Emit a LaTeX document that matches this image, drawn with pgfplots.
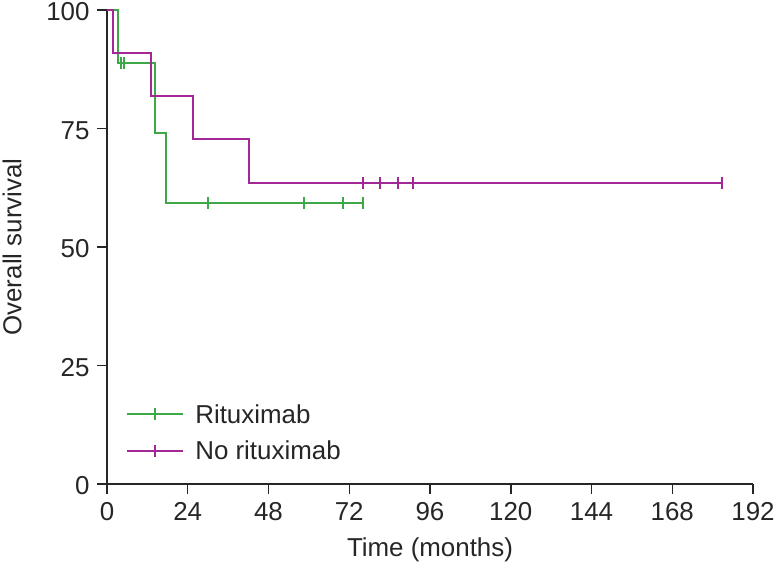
\documentclass[border=0pt]{standalone}
\usepackage{fontspec}
\setmainfont{Liberation Sans}
\usepackage{pgfplots}
\pgfplotsset{compat=1.18}
\definecolor{kmgreen}{RGB}{62,168,72}
\definecolor{kmmag}{RGB}{162,40,150}
\begin{document}
\begin{tikzpicture}
\begin{axis}[
  scale only axis,
  width=646bp, height=474bp,
  xmin=0, xmax=192, ymin=0, ymax=100,
  xtick={0,24,...,192}, ytick={0,25,50,75,100},
  axis x line=bottom, axis y line=left,
  axis line style={-, line width=1.5bp, black!85},
  tick style={line width=1.5bp, black!85},
  tick align=outside, major tick length=10bp,
  /pgf/number format/assume math mode=true,
  tick label style={font=\fontsize{26}{28}\selectfont, text=black!85},
  xticklabel style={yshift=-5bp},
  yticklabel style={xshift=-4bp, yshift=-2bp},
  xlabel={Time (months)}, ylabel={Overall survival},
  xlabel style={at={(axis description cs:0.5,-0.139)}, anchor=center, font=\fontsize{26}{28}\selectfont, text=black!85},
  ylabel style={at={(axis description cs:-0.147,0.5)}, anchor=center, rotate=0, font=\fontsize{26}{28}\selectfont, text=black!85},
  legend style={draw=none, fill=none, at={(axis description cs:0.025,0.04)}, anchor=south west,
    font=\fontsize{26}{28}\selectfont, row sep=12bp, text=black!85,
    nodes={inner xsep=11bp}},
  legend cell align=left,
  legend image code/.code={\draw[#1] (0bp,0bp) -- (56bp,0bp); \draw[#1] (28bp,-6bp) -- (28bp,6bp);},
]
\addplot[const plot, kmgreen, line width=2bp] coordinates {(0,100) (3.3,88.9) (14.3,74.1) (17.6,59.3) (76.1,59.3)};
\addlegendentry{Rituximab}
\addplot[const plot, kmmag, line width=2bp] coordinates {(0,100) (1.7,90.9) (13.2,81.8) (25.6,72.7) (42.3,63.6) (182.7,63.6)};
\addlegendentry{No rituximab}
\addplot[only marks, mark=|, mark size=6bp, kmgreen, mark options={line width=2bp}, forget plot] coordinates {(4.2,88.9) (5.1,88.9) (30,59.3) (58.6,59.3) (70,59.3) (76.1,59.3)};
\addplot[only marks, mark=|, mark size=6bp, kmmag, mark options={line width=2bp}, forget plot] coordinates {(76.1,63.6) (81.2,63.6) (86.4,63.6) (91.0,63.6) (182.7,63.6)};
\end{axis}
\pgfresetboundingbox
\useasboundingbox (-107bp,-89bp) rectangle (672bp,484bp);
\end{tikzpicture}
\end{document}
